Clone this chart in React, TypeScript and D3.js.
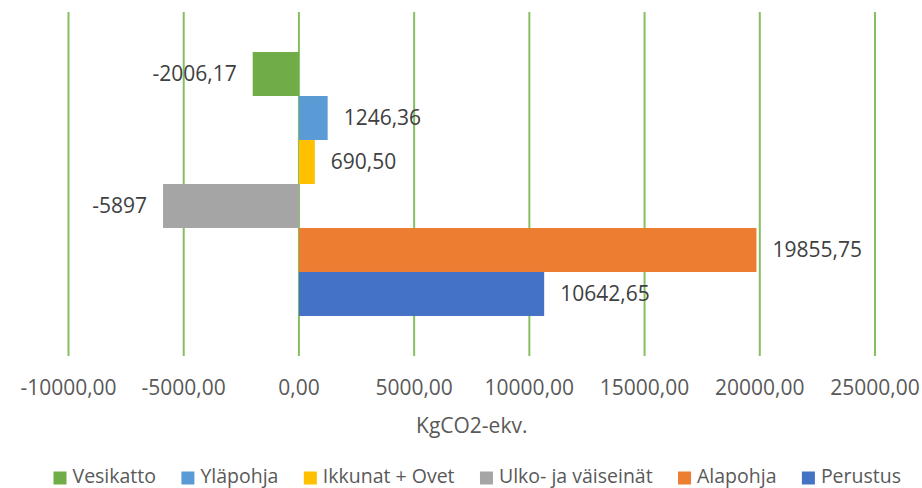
import React, { useLayoutEffect, useRef, useState } from "react";
import * as d3 from "d3";

const series = ["Vesikatto", "Yläpohja", "Ikkunat + Ovet", "Ulko- ja väiseinät", "Alapohja", "Perustus"];
const values = [-2006.17, 1246.36, 690.5, -5897, 19855.75, 10642.65];
const valueLabels = ["-2006,17", "1246,36", "690,50", "-5897", "19855,75", "10642,65"];
const colors = ["#70AD47", "#5B9BD5", "#FFC000", "#A5A5A5", "#ED7D31", "#4472C4"];
const xTicks = [-10000, -5000, 0, 5000, 10000, 15000, 20000, 25000];
const axisTitle = "KgCO2-ekv.";

const W = 922;
const H = 488;
const FONT = "'Open Sans', sans-serif";
const FS = 21;
const LFS = 19.5;

export default function App() {
  const x = d3.scaleLinear().domain([-10000, 25000]).range([68.5, 875]);
  const y = d3.scaleBand<string>().domain(series).range([12, 356]).paddingInner(0).paddingOuter(0.91);
  const fmt = (v: number) => d3.format(".2f")(v).replace(".", ",").replace("\u2212", "-");

  const textRefs = useRef<(SVGTextElement | null)[]>([]);
  const [widths, setWidths] = useState<number[]>(series.map((s) => s.length * LFS * 0.5));
  useLayoutEffect(() => {
    const measured = textRefs.current.map((t, i) => (t ? t.getComputedTextLength() : widths[i]));
    if (measured.some((m, i) => Math.abs(m - widths[i]) > 0.5)) setWidths(measured);
  });

  const sw = 13;
  const swGap = 6;
  const legendLeft = 53.5;
  const legendRight = 901;
  const content = widths.reduce((a, w) => a + sw + swGap + w, 0);
  const itemGap = Math.max(8, (legendRight - legendLeft - content) / (series.length - 1));
  let lx = (legendLeft + legendRight) / 2 - (content + itemGap * (series.length - 1)) / 2;
  const legendItems = series.map((s, i) => {
    const item = { s, i, x: lx };
    lx += sw + swGap + widths[i] + itemGap;
    return item;
  });

  return (
    <svg width={W} height={H} style={{ position: "absolute", left: 0, top: 0, background: "#fff" }} fontFamily={FONT}>
      {xTicks.map((t) => (
        <line key={t} x1={x(t)} x2={x(t)} y1={12} y2={356} stroke="#84C062" strokeWidth={2} />
      ))}
      {series.map((s, i) => {
        const v = values[i];
        const x0 = x(Math.min(0, v));
        const x1 = x(Math.max(0, v));
        const yy = y(s)!;
        const bw = y.bandwidth();
        return (
          <g key={s}>
            <rect x={x0} y={yy} width={x1 - x0} height={bw} fill={colors[i]} />
            <text
              x={v < 0 ? x0 - 16 : x1 + 16}
              y={yy + bw / 2}
              dy="0.35em"
              textAnchor={v < 0 ? "end" : "start"}
              fontSize={FS}
              fill="#404040"
            >
              {valueLabels[i]}
            </text>
          </g>
        );
      })}
      {xTicks.map((t) => (
        <text key={"l" + t} x={x(t)} y={388} dy="0.35em" textAnchor="middle" fontSize={FS} fill="#595959">
          {fmt(t)}
        </text>
      ))}
      <text x={(x(-10000) + x(25000)) / 2} y={426} dy="0.35em" textAnchor="middle" fontSize={FS} fill="#595959">
        {axisTitle}
      </text>
      {legendItems.map((it) => (
        <g key={it.s}>
          <rect x={it.x} y={471.5} width={sw} height={sw} fill={colors[it.i]} />
          <text
            ref={(el) => {
              textRefs.current[it.i] = el;
            }}
            x={it.x + sw + swGap}
            y={483}
            fontSize={LFS}
            fill="#595959"
          >
            {it.s}
          </text>
        </g>
      ))}
    </svg>
  );
}
